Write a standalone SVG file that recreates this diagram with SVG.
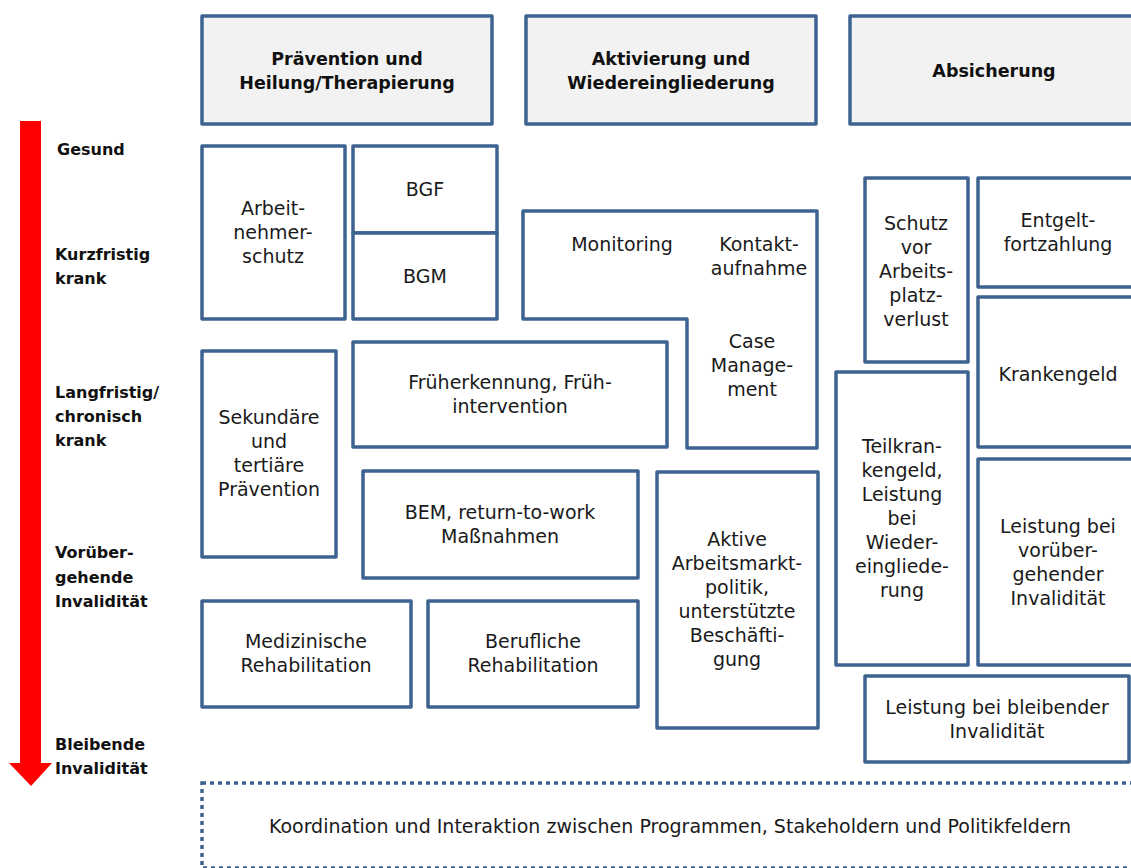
<svg xmlns="http://www.w3.org/2000/svg" width="1131" height="868" viewBox="0 0 1131 868">
<style>
.box{fill:#ffffff;stroke:#3e6391;stroke-width:3.5;stroke-linejoin:round}
.hdr{fill:#f2f2f2;stroke:#3e6391;stroke-width:3.5;stroke-linejoin:round}
.t{font-family:"DejaVu Sans","Liberation Sans",sans-serif;font-size:19px;fill:#1a1a1a;text-anchor:middle}
.h{font-family:"DejaVu Sans","Liberation Sans",sans-serif;font-size:17.5px;font-weight:bold;fill:#111;text-anchor:middle}
.l{font-family:"DejaVu Sans","Liberation Sans",sans-serif;font-size:16px;font-weight:bold;fill:#111}
.dot{fill:none;stroke:#3e6391;stroke-width:3.5;stroke-dasharray:4 4}
</style>
<rect width="1131" height="868" fill="#ffffff"/>

<g id="arrow">
<polygon points="20,121 41,121 41,763 52,763 31,786 9,763 20,763" fill="#ff0000"/>
</g>

<g id="stages">
<text class="l" x="57" y="155">Gesund</text>
<text class="l" x="55" y="260">Kurzfristig</text>
<text class="l" x="55" y="284">krank</text>
<text class="l" x="55" y="398">Langfristig/</text>
<text class="l" x="55" y="422">chronisch</text>
<text class="l" x="55" y="446">krank</text>
<text class="l" x="55" y="558">Vorüber-</text>
<text class="l" x="55" y="583">gehende</text>
<text class="l" x="55" y="607">Invalidität</text>
<text class="l" x="55" y="750">Bleibende</text>
<text class="l" x="55" y="774">Invalidität</text>
</g>

<g id="hdr-praevention">
<rect class="hdr" x="202" y="16" width="290" height="108"/>
<text class="h" x="347" y="65">Prävention und</text>
<text class="h" x="347" y="89">Heilung/Therapierung</text>
</g>
<g id="hdr-aktivierung">
<rect class="hdr" x="526" y="16" width="290" height="108"/>
<text class="h" x="671" y="65">Aktivierung und</text>
<text class="h" x="671" y="89">Wiedereingliederung</text>
</g>
<g id="hdr-absicherung">
<rect class="hdr" x="850" y="16" width="300" height="108"/>
<text class="h" x="994" y="77">Absicherung</text>
</g>

<g id="arbeitnehmerschutz">
<rect class="box" x="202" y="146" width="143" height="173"/>
<text class="t" x="273" y="215">Arbeit-</text>
<text class="t" x="273" y="239">nehmer-</text>
<text class="t" x="273" y="263">schutz</text>
</g>
<g id="bgf">
<rect class="box" x="353" y="146" width="144" height="87"/>
<text class="t" x="425" y="196">BGF</text>
</g>
<g id="bgm">
<rect class="box" x="353" y="233" width="144" height="86"/>
<text class="t" x="425" y="283">BGM</text>
</g>
<g id="monitoring-case">
<path class="box" d="M523,211 H817 V448 H687 V319 H523 Z"/>
<text class="t" x="622" y="251">Monitoring</text>
<text class="t" x="759" y="251">Kontakt-</text>
<text class="t" x="759" y="275">aufnahme</text>
<text class="t" x="752" y="348">Case</text>
<text class="t" x="752" y="372">Manage-</text>
<text class="t" x="752" y="396">ment</text>
</g>
<g id="sekundaer">
<rect class="box" x="202" y="351" width="134" height="206"/>
<text class="t" x="269" y="424">Sekundäre</text>
<text class="t" x="269" y="448">und</text>
<text class="t" x="269" y="472">tertiäre</text>
<text class="t" x="269" y="496">Prävention</text>
</g>
<g id="frueherkennung">
<rect class="box" x="353" y="342" width="314" height="105"/>
<text class="t" x="510" y="389">Früherkennung, Früh-</text>
<text class="t" x="510" y="413">intervention</text>
</g>
<g id="bem">
<rect class="box" x="363" y="471" width="275" height="107"/>
<text class="t" x="500" y="519">BEM, return-to-work</text>
<text class="t" x="500" y="543">Maßnahmen</text>
</g>
<g id="med-reha">
<rect class="box" x="202" y="601" width="209" height="106"/>
<text class="t" x="306" y="648">Medizinische</text>
<text class="t" x="306" y="672">Rehabilitation</text>
</g>
<g id="beruf-reha">
<rect class="box" x="428" y="601" width="210" height="106"/>
<text class="t" x="533" y="648">Berufliche</text>
<text class="t" x="533" y="672">Rehabilitation</text>
</g>
<g id="aktive-amp">
<rect class="box" x="657" y="472" width="161" height="256"/>
<text class="t" x="737" y="546">Aktive</text>
<text class="t" x="737" y="570">Arbeitsmarkt-</text>
<text class="t" x="737" y="594">politik,</text>
<text class="t" x="737" y="618">unterstützte</text>
<text class="t" x="737" y="642">Beschäfti-</text>
<text class="t" x="737" y="666">gung</text>
</g>
<g id="schutz">
<rect class="box" x="865" y="178" width="103" height="184"/>
<text class="t" x="916" y="230">Schutz</text>
<text class="t" x="916" y="254">vor</text>
<text class="t" x="916" y="278">Arbeits-</text>
<text class="t" x="916" y="302">platz-</text>
<text class="t" x="916" y="326">verlust</text>
</g>
<g id="entgelt">
<rect class="box" x="978" y="178" width="170" height="109"/>
<text class="t" x="1058" y="227">Entgelt-</text>
<text class="t" x="1058" y="251">fortzahlung</text>
</g>
<g id="krankengeld">
<rect class="box" x="978" y="297" width="170" height="150"/>
<text class="t" x="1058" y="381">Krankengeld</text>
</g>
<g id="teilkrankengeld">
<rect class="box" x="836" y="372" width="132" height="293"/>
<text class="t" x="902" y="453">Teilkran-</text>
<text class="t" x="902" y="477">kengeld,</text>
<text class="t" x="902" y="501">Leistung</text>
<text class="t" x="902" y="525">bei</text>
<text class="t" x="902" y="549">Wieder-</text>
<text class="t" x="902" y="573">eingliede-</text>
<text class="t" x="902" y="597">rung</text>
</g>
<g id="voruebergehend">
<rect class="box" x="978" y="459" width="170" height="206"/>
<text class="t" x="1058" y="533">Leistung bei</text>
<text class="t" x="1058" y="557">vorüber-</text>
<text class="t" x="1058" y="581">gehender</text>
<text class="t" x="1058" y="605">Invalidität</text>
</g>
<g id="bleibend">
<rect class="box" x="865" y="676" width="264" height="86"/>
<text class="t" x="997" y="714">Leistung bei bleibender</text>
<text class="t" x="997" y="738">Invalidität</text>
</g>
<g id="koordination">
<rect class="dot" x="202" y="783" width="960" height="85"/>
<text class="t" x="670" y="833">Koordination und Interaktion zwischen Programmen, Stakeholdern und Politikfeldern</text>
</g>
<g id="connectors"></g>
</svg>
